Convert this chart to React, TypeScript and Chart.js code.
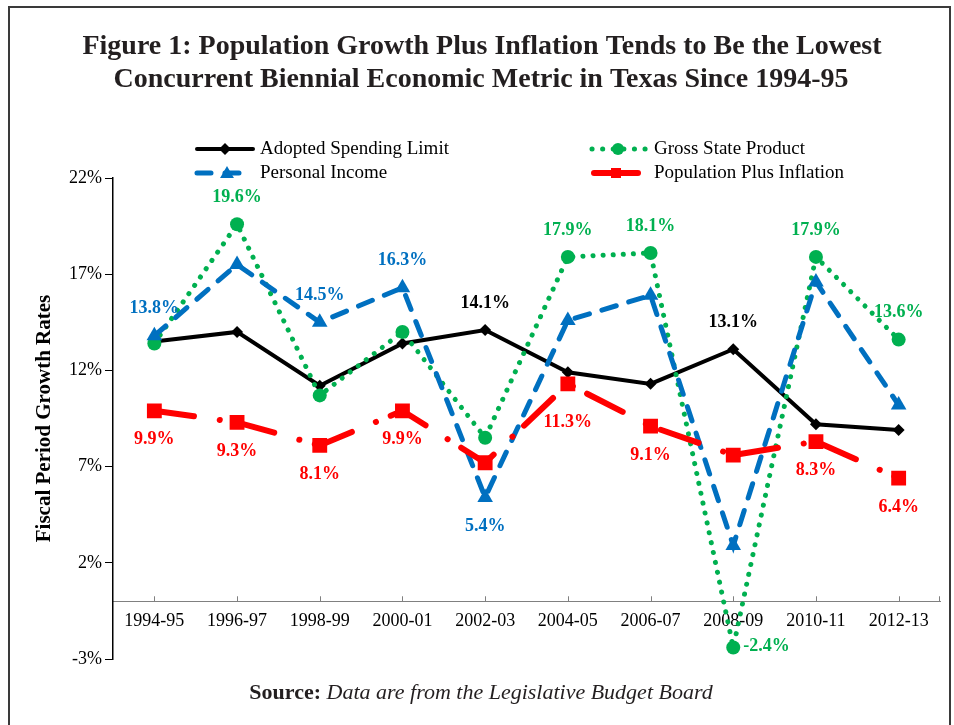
import React, { useEffect, useRef } from 'react';
import { Chart, registerables } from 'chart.js';

Chart.register(...registerables);

// ---------- data ----------
const categories = ['1994-95', '1996-97', '1998-99', '2000-01', '2002-03', '2004-05', '2006-07', '2008-09', '2010-11', '2012-13'];
const adoptedSpendingLimit = [13.5, 14.0, 11.2, 13.4, 14.1, 11.9, 11.3, 13.1, 9.2, 8.9];
const grossStateProduct = [13.4, 19.6, 10.7, 14.0, 8.5, 17.9, 18.1, -2.4, 17.9, 13.6];
const personalIncome = [13.8, 17.5, 14.5, 16.3, 5.4, 14.6, 15.9, 2.9, 16.6, 10.2];
const populationPlusInflation = [9.9, 9.3, 8.1, 9.9, 7.2, 11.3, 9.1, 7.6, 8.3, 6.4];
const yTickValues = [-3, 2, 7, 12, 17, 22];
const seriesNames = ['Adopted Spending Limit', 'Gross State Product', 'Personal Income', 'Population Plus Inflation'];
const titleLines = [
  'Figure 1: Population Growth Plus Inflation Tends to Be the Lowest',
  'Concurrent Biennial Economic Metric in Texas Since 1994-95',
];
const yAxisTitle = 'Fiscal Period Growth Rates';
const sourceBold = 'Source:';
const sourceItalic = 'Data are from the Legislative Budget Board';

// ---------- label placement (style) ----------
type Place = null | 'above' | 'below' | 'belowFar' | 'right';
const adoptedPlace: Place[] = [null, null, null, null, 'above', null, null, 'above', null, null];
const grossPlace: Place[] = [null, 'above', null, null, null, 'above', 'above', 'right', 'above', 'above'];
const personalPlace: Place[] = ['above', null, 'above', 'above', 'below', null, null, null, null, null];
const populationPlace: Place[] = ['below', 'below', 'below', 'below', null, 'belowFar', 'below', null, 'below', 'below'];

const BLACK = '#000000';
const GREEN = '#00B050';
const BLUE = '#0070C0';
const RED = '#FF0000';
const INK = '#231F20';
const SERIF = "'Liberation Serif', 'Times New Roman', serif";

const placements = [adoptedPlace, grossPlace, personalPlace, populationPlace];

function marker(ctx: CanvasRenderingContext2D, style: string, x: number, y: number, r: number, color: string) {
  ctx.save();
  ctx.fillStyle = color;
  ctx.beginPath();
  if (style === 'circle') {
    ctx.arc(x, y, r, 0, Math.PI * 2);
  } else if (style === 'rectRot') {
    ctx.moveTo(x, y - r);
    ctx.lineTo(x + r, y);
    ctx.lineTo(x, y + r);
    ctx.lineTo(x - r, y);
    ctx.closePath();
  } else if (style === 'triangle') {
    ctx.moveTo(x, y - r);
    ctx.lineTo(x + r * 0.866, y + r * 0.5);
    ctx.lineTo(x - r * 0.866, y + r * 0.5);
    ctx.closePath();
  } else {
    ctx.rect(x - r, y - r, 2 * r, 2 * r);
  }
  ctx.fill();
  ctx.restore();
}

const decorPlugin = {
  id: 'decor',
  beforeDraw(chart: any) {
    const ctx = chart.ctx as CanvasRenderingContext2D;
    ctx.save();
    ctx.fillStyle = '#ffffff';
    ctx.fillRect(0, 0, chart.width, chart.height);
    ctx.restore();
  },
  afterDatasetsDraw(chart: any) {
    const ctx = chart.ctx as CanvasRenderingContext2D;
    ctx.save();
    ctx.font = `bold 18px ${SERIF}`;
    ctx.textBaseline = 'middle';
    chart.data.datasets.forEach((ds: any, di: number) => {
      const meta = chart.getDatasetMeta(di);
      const place = placements[di];
      meta.data.forEach((pt: any, i: number) => {
        const p = place[i];
        if (!p) return;
        const txt = ds.data[i].toFixed(1) + '%';
        ctx.fillStyle = ds.borderColor;
        let x = pt.x;
        let y = pt.y;
        ctx.textAlign = 'center';
        if (p === 'above') y -= 27;
        else if (p === 'below') y += 29;
        else if (p === 'belowFar') y += 38;
        else if (p === 'right') {
          ctx.textAlign = 'left';
          x += 10;
          y -= 1;
        }
        ctx.fillText(txt, x, y);
      });
    });
    ctx.restore();
  },
  afterDraw(chart: any) {
    const ctx = chart.ctx as CanvasRenderingContext2D;
    const xs = chart.scales.x;
    const ys = chart.scales.y;
    ctx.save();
    // x-axis inward ticks
    const y0 = ys.getPixelForValue(0);
    ctx.strokeStyle = '#808080';
    ctx.lineWidth = 1;
    ctx.beginPath();
    categories.forEach((_, i) => {
      const x = Math.round(xs.getPixelForValue(i)) + 0.5;
      ctx.moveTo(x, y0);
      ctx.lineTo(x, y0 - 5);
    });
    const xr = Math.round(chart.chartArea.right) - 0.5;
    ctx.moveTo(xr, y0);
    ctx.lineTo(xr, y0 - 5);
    ctx.stroke();

    // frame
    ctx.strokeStyle = '#3a3a3a';
    ctx.lineWidth = 2;
    ctx.beginPath();
    ctx.moveTo(9, 740);
    ctx.lineTo(9, 7);
    ctx.lineTo(950, 7);
    ctx.lineTo(950, 740);
    ctx.stroke();

    // title
    ctx.fillStyle = INK;
    ctx.font = `bold 28px ${SERIF}`;
    ctx.textAlign = 'center';
    ctx.textBaseline = 'middle';
    ctx.fillText(titleLines[0], 482, 47);
    ctx.fillText(titleLines[1], 481, 80);

    // legend
    const legendItems = [
      { x: 197, y: 149, name: seriesNames[0] },
      { x: 592, y: 149, name: seriesNames[1] },
      { x: 197, y: 173, name: seriesNames[2] },
      { x: 592, y: 173, name: seriesNames[3] },
    ];
    ctx.lineCap = 'round';
    // black
    ctx.strokeStyle = BLACK;
    ctx.lineWidth = 4;
    ctx.setLineDash([]);
    ctx.beginPath();
    ctx.moveTo(legendItems[0].x, legendItems[0].y);
    ctx.lineTo(legendItems[0].x + 56, legendItems[0].y);
    ctx.stroke();
    marker(ctx, 'rectRot', legendItems[0].x + 28, legendItems[0].y, 6, BLACK);
    // green
    ctx.strokeStyle = GREEN;
    ctx.lineWidth = 5;
    ctx.setLineDash([0.1, 10.5]);
    ctx.beginPath();
    ctx.moveTo(legendItems[1].x, legendItems[1].y);
    ctx.lineTo(legendItems[1].x + 54, legendItems[1].y);
    ctx.stroke();
    marker(ctx, 'circle', legendItems[1].x + 26, legendItems[1].y, 6, GREEN);
    // blue
    ctx.strokeStyle = BLUE;
    ctx.lineWidth = 5;
    ctx.setLineDash([14, 14]);
    ctx.beginPath();
    ctx.moveTo(legendItems[2].x, legendItems[2].y);
    ctx.lineTo(legendItems[2].x + 56, legendItems[2].y);
    ctx.stroke();
    marker(ctx, 'triangle', legendItems[2].x + 30, legendItems[2].y + 1, 8, BLUE);
    // red
    ctx.strokeStyle = RED;
    ctx.lineWidth = 6;
    ctx.setLineDash([]);
    ctx.beginPath();
    ctx.moveTo(legendItems[3].x + 2, legendItems[3].y);
    ctx.lineTo(legendItems[3].x + 46, legendItems[3].y);
    ctx.stroke();
    marker(ctx, 'rect', legendItems[3].x + 24, legendItems[3].y, 5, RED);
    ctx.setLineDash([]);

    ctx.fillStyle = '#000';
    ctx.font = `19px ${SERIF}`;
    ctx.textAlign = 'left';
    ctx.fillText(legendItems[0].name, 260, 149);
    ctx.fillText(legendItems[1].name, 654, 149);
    ctx.fillText(legendItems[2].name, 260, 173);
    ctx.fillText(legendItems[3].name, 654, 173);

    // source
    ctx.fillStyle = INK;
    const fs = 22;
    ctx.font = `bold ${fs}px ${SERIF}`;
    const wb = ctx.measureText(sourceBold + ' ').width;
    ctx.font = `italic ${fs}px ${SERIF}`;
    const wi = ctx.measureText(sourceItalic).width;
    const sx = 481 - (wb + wi) / 2;
    ctx.font = `bold ${fs}px ${SERIF}`;
    ctx.fillText(sourceBold + ' ', sx, 693);
    ctx.font = `italic ${fs}px ${SERIF}`;
    ctx.fillText(sourceItalic, sx + wb, 693);
    ctx.restore();
  },
};

export default function App() {
  const ref = useRef<HTMLCanvasElement>(null);
  useEffect(() => {
    const common = { fill: false, tension: 0, borderCapStyle: 'round' as const, pointBorderWidth: 0 };
    const chart = new Chart(ref.current!, {
      type: 'line',
      data: {
        labels: categories,
        datasets: [
          {
            ...common,
            label: seriesNames[0],
            data: adoptedSpendingLimit,
            borderColor: BLACK,
            backgroundColor: BLACK,
            borderWidth: 4,
            pointStyle: 'rectRot',
            pointRadius: 6,
            order: 4,
          },
          {
            ...common,
            label: seriesNames[1],
            data: grossStateProduct,
            borderColor: GREEN,
            backgroundColor: GREEN,
            borderWidth: 5,
            borderDash: [0.1, 10],
            pointStyle: 'circle',
            pointRadius: 7,
            order: 3,
          },
          {
            ...common,
            label: seriesNames[2],
            data: personalIncome,
            borderColor: BLUE,
            backgroundColor: BLUE,
            borderWidth: 5,
            borderDash: [15, 13],
            pointStyle: 'triangle',
            pointRadius: 9,
            order: 2,
          },
          {
            ...common,
            label: seriesNames[3],
            data: populationPlusInflation,
            borderColor: RED,
            backgroundColor: RED,
            borderWidth: 6,
            borderDash: [40, 26, 0.1, 16],
            pointStyle: 'rect',
            pointRadius: 10.5,
            order: 1,
          },
        ],
      },
      options: {
        responsive: false,
        animation: false,
        devicePixelRatio: 1,
        layout: { padding: { left: 28, top: 178, right: 14, bottom: 66 } },
        plugins: {
          legend: { display: false },
          title: { display: false },
          tooltip: { enabled: false },
        },
        scales: {
          x: {
            type: 'category',
            position: { y: 0 } as any,
            offset: true,
            grid: { display: false, drawTicks: false },
            border: { display: true, color: '#808080', width: 1 },
            ticks: { color: '#000', font: { family: SERIF, size: 18 }, padding: 9, maxRotation: 0, autoSkip: false },
          },
          y: {
            type: 'linear',
            position: 'left',
            min: -3,
            max: 22,
            afterBuildTicks: (scale: any) => {
              scale.ticks = yTickValues.map((v) => ({ value: v }));
            },
            afterFit: (scale: any) => {
              scale.width = 85;
            },
            grid: { display: true, drawOnChartArea: false, drawTicks: true, tickLength: 8, color: '#000' },
            border: { display: true, color: '#000', width: 1.5 },
            ticks: {
              color: '#000',
              font: { family: SERIF, size: 18 },
              padding: 3,
              callback: (v: any) => `${v}%`,
            },
            title: {
              display: true,
              text: yAxisTitle,
              color: '#000',
              font: { family: SERIF, size: 21, weight: 'bold' },
            },
          },
        },
      },
      plugins: [decorPlugin],
    });
    return () => chart.destroy();
  }, []);
  return (
    <div style={{ position: 'absolute', left: 0, top: 0, width: 954, height: 725, background: '#fff' }}>
      <canvas ref={ref} width={954} height={725} style={{ display: 'block', width: 954, height: 725 }} />
    </div>
  );
}
